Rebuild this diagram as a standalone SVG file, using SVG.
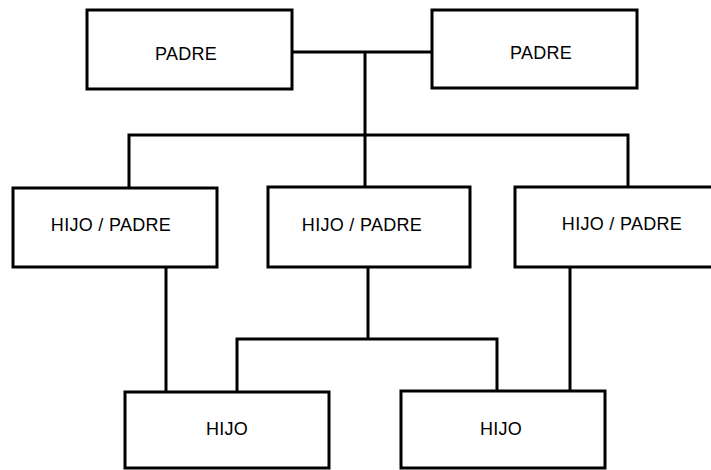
<svg xmlns="http://www.w3.org/2000/svg" width="711" height="470" viewBox="0 0 711 470">
<style>
.box{fill:#fff;stroke:#000;stroke-width:3}
.lbl{font-family:"Liberation Sans",Arial,sans-serif;font-size:18px;fill:#000;text-anchor:middle;letter-spacing:0.3px}
.con{fill:none;stroke:#000;stroke-width:3;stroke-linejoin:miter}
</style>
<rect width="711" height="470" fill="#fff"/>
<g id="connectors">
<path class="con" d="M292 52 H432"/>
<path class="con" d="M365 52 V187"/>
<path class="con" d="M129 188 V135 H628 V187"/>
<path class="con" d="M166 267 V392"/>
<path class="con" d="M368 267 V339"/>
<path class="con" d="M237 392 V339 H497 V391"/>
<path class="con" d="M570 267 V391"/>
</g>
<g id="padre1"><rect class="box" x="87" y="10" width="205" height="79"/><text class="lbl" x="186" y="60">PADRE</text></g>
<g id="padre2"><rect class="box" x="432" y="10" width="205" height="78"/><text class="lbl" x="541" y="59">PADRE</text></g>
<g id="hp1"><rect class="box" x="13" y="188" width="204" height="79"/><text class="lbl" x="111" y="231">HIJO / PADRE</text></g>
<g id="hp2"><rect class="box" x="268" y="187" width="202" height="80"/><text class="lbl" x="362" y="231">HIJO / PADRE</text></g>
<g id="hp3"><rect class="box" x="515" y="187" width="200" height="80"/><text class="lbl" x="622" y="230">HIJO / PADRE</text></g>
<g id="hijo1"><rect class="box" x="125" y="392" width="204" height="76"/><text class="lbl" x="227" y="435">HIJO</text></g>
<g id="hijo2"><rect class="box" x="401" y="391" width="204" height="77"/><text class="lbl" x="501" y="435">HIJO</text></g>
</svg>
